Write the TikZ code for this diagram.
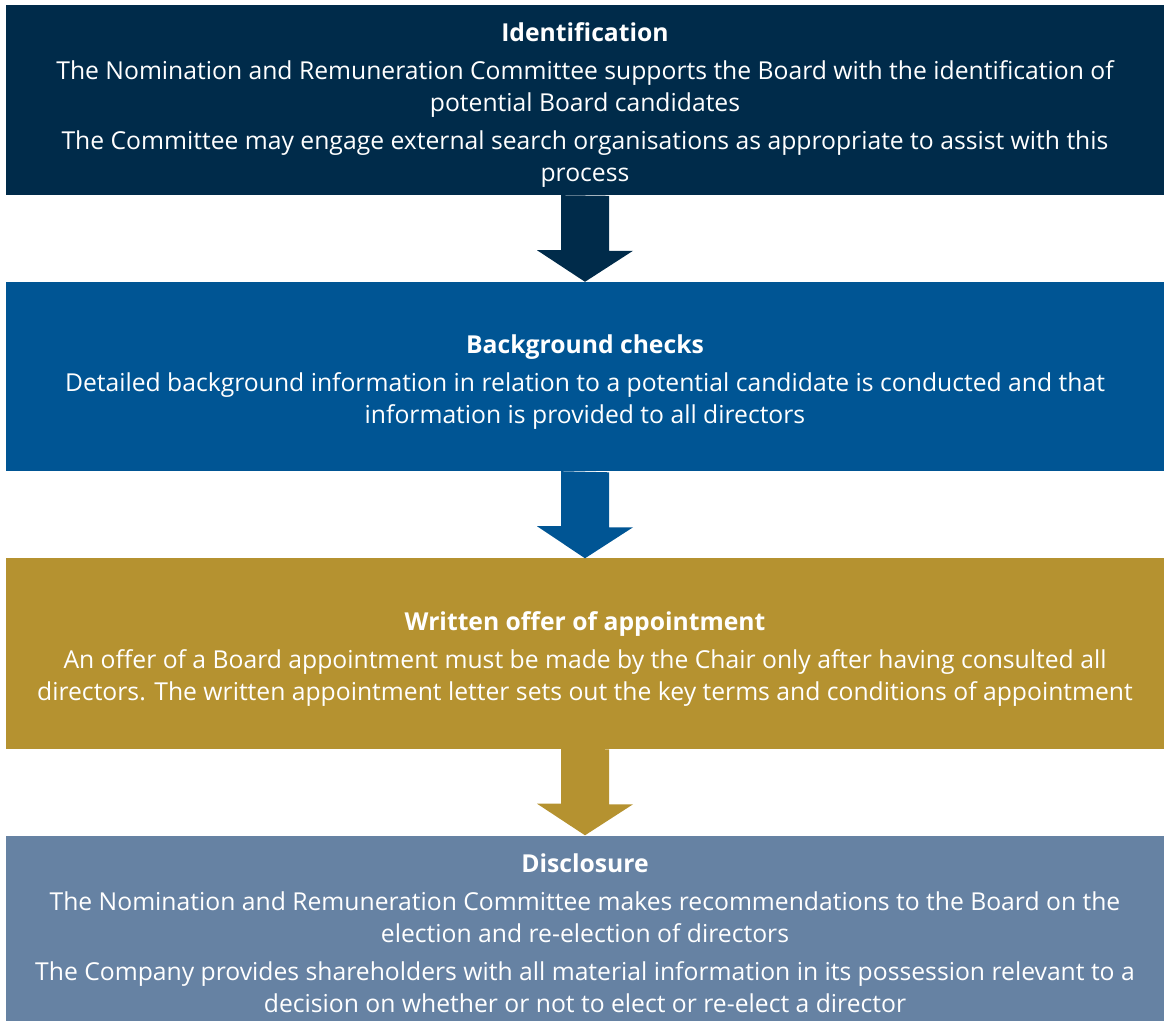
\documentclass[tikz,border=0pt]{standalone}
\usepackage{fontspec}
\setmainfont{Open Sans}
\definecolor{stagenavy}{RGB}{0,43,74}
\definecolor{stageblue}{RGB}{0,85,148}
\definecolor{stagegold}{RGB}{181,146,48}
\definecolor{stagesteel}{RGB}{102,130,163}
\begin{document}
\begin{tikzpicture}
[x=1pt,y=1pt,
  stagebox/.style={shape=rectangle,inner sep=0pt,minimum width=1158pt,
    text=white,align=center,font=\fontsize{24.7}{32}\selectfont},%
  stagetitle/.style={font=\bfseries}]
\useasboundingbox (0,0) rectangle (1164,1021);
%% stages
\node (ident) at (585,921) [stagebox,minimum height=190pt,fill=stagenavy]
  {\rule{0pt}{28pt}\textbf{Identification}\\[6pt]
   The Nomination and Remuneration Committee supports the Board with the identification of\\
   potential Board candidates\\[6pt]
   The Committee may engage external search organisations as appropriate to assist with this\\
   process};
\node (checks) at (585,644.5) [stagebox,minimum height=189pt,fill=stageblue]
  {\rule{0pt}{30pt}\textbf{Background checks}\\[6pt]
   Detailed background information in relation to a potential candidate is conducted and that\\
   information is provided to all directors};
\node (offer) at (585,367.5) [stagebox,minimum height=190pt,fill=stagegold]
  {\rule{0pt}{30pt}\textbf{Written offer of appointment}\\[6pt]
   An offer of a Board appointment must be made by the Chair only after having consulted all\\
   directors. The written appointment letter sets out the key terms and conditions of appointment};
\node (disclose) at (585,92.75) [stagebox,minimum height=185.5pt,fill=stagesteel]
  {\rule{0pt}{28pt}\textbf{Disclosure}\\[6pt]
   The Nomination and Remuneration Committee makes recommendations to the Board on the\\
   election and re-election of directors\\[6pt]
   The Company provides shareholders with all material information in its possession relevant to a\\
   decision on whether or not to elect or re-elect a director};
%% arrows between stages
\foreach \startnode/\endnode/\col in {ident/checks/stagenavy, checks/offer/stageblue, offer/disclose/stagegold} {
  \fill[\col] (\startnode.south) ++(-24,0) -- ++(0,-55) -- ++(-24,0)
    -- (\endnode.north) -- ++(48,31) -- ++(-24,0) -- ++(0,55) -- cycle;
}
\end{tikzpicture}
\end{document}
